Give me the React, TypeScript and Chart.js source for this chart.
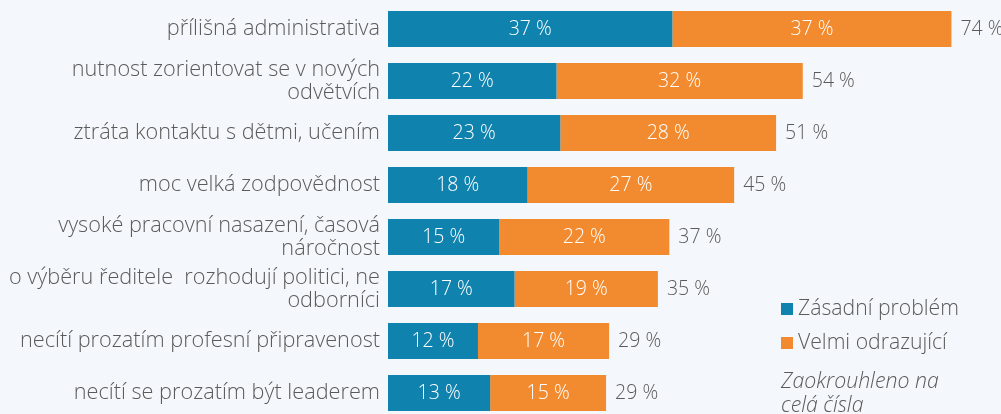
import React, { useEffect, useRef } from "react";
import { Chart, registerables } from "chart.js";

Chart.register(...registerables);

const categories: (string | string[])[] = [
  "přílišná administrativa",
  ["nutnost zorientovat se v nových", "odvětvích"],
  "ztráta kontaktu s dětmi, učením",
  "moc velká zodpovědnost",
  ["vysoké pracovní nasazení, časová", "náročnost"],
  ["o výběru ředitele  rozhodují politici, ne", "odborníci"],
  "necítí prozatím profesní připravenost",
  "necítí se prozatím být leaderem",
];

const seriesNames = ["Zásadní problém", "Velmi odrazující"];
const zasadniProblem = [37.3, 22.1, 22.6, 18.3, 14.6, 16.6, 11.8, 13.4];
const velmiOdrazujici = [36.6, 32.3, 28.3, 27.1, 22.3, 18.8, 17.2, 15.2];
const noteLines = ["Zaokrouhleno na", "celá čísla"];

const BLUE = "#1082ae";
const ORANGE = "#f28b30";
const TEXT = "#5a5a5a";
const BG = "#f4f7fb";
const FONT = "'Open Sans'";

const labelsPlugin = {
  id: "valueLabels",
  afterDatasetsDraw(chart: any) {
    const ctx = chart.ctx;
    ctx.save();
    ctx.textBaseline = "middle";
    ctx.font = `300 19.5px ${FONT}`;
    chart.data.datasets.forEach((ds: any, di: number) => {
      const meta = chart.getDatasetMeta(di);
      meta.data.forEach((bar: any, i: number) => {
        const v = ds.data[i] as number;
        ctx.fillStyle = "#ffffff";
        ctx.textAlign = "center";
        ctx.fillText(`${Math.round(v)} %`, (bar.x + bar.base) / 2, bar.y);
      });
    });
    const lastMeta = chart.getDatasetMeta(chart.data.datasets.length - 1);
    lastMeta.data.forEach((bar: any, i: number) => {
      const total = chart.data.datasets.reduce(
        (s: number, ds: any) => s + (ds.data[i] as number),
        0
      );
      ctx.fillStyle = TEXT;
      ctx.textAlign = "left";
      ctx.fillText(`${Math.round(total)} %`, bar.x + 9, bar.y);
    });
    ctx.restore();
  },
};

const legendPlugin = {
  id: "legendNote",
  afterDraw(chart: any) {
    const ctx = chart.ctx;
    ctx.save();
    const x0 = 781;
    const rows = [309, 343];
    ctx.textBaseline = "middle";
    ctx.textAlign = "left";
    ctx.font = `300 21.2px ${FONT}`;
    chart.data.datasets.forEach((ds: any, di: number) => {
      const y = rows[di];
      ctx.fillStyle = ds.backgroundColor;
      ctx.fillRect(x0, y - 6, 12, 12);
      ctx.fillStyle = TEXT;
      ctx.fillText(ds.label, x0 + 17, y);
    });
    ctx.font = `italic 300 21.3px ${FONT}`;
    ctx.textBaseline = "alphabetic";
    noteLines.forEach((line, i) => {
      ctx.fillText(line, x0, 388 + i * 24);
    });
    ctx.restore();
  },
};

export default function App() {
  const canvasRef = useRef<HTMLCanvasElement | null>(null);

  useEffect(() => {
    document.body.style.margin = "0";
    document.body.style.background = BG;
    document.body.style.overflow = "hidden";
    const canvas = canvasRef.current;
    if (!canvas) return;
    const chart = new Chart(canvas, {
      type: "bar",
      data: {
        labels: categories,
        datasets: [
          {
            label: seriesNames[0],
            data: zasadniProblem,
            backgroundColor: BLUE,
            categoryPercentage: 1,
            barPercentage: 0.69,
          },
          {
            label: seriesNames[1],
            data: velmiOdrazujici,
            backgroundColor: ORANGE,
            categoryPercentage: 1,
            barPercentage: 0.69,
          },
        ],
      },
      options: {
        indexAxis: "y",
        animation: false,
        responsive: true,
        maintainAspectRatio: false,
        layout: { padding: { top: 3, bottom: 0, left: 0, right: 0 } },
        plugins: {
          legend: { display: false },
          tooltip: { enabled: false },
        },
        scales: {
          x: {
            stacked: true,
            display: false,
            min: 0,
            max: 80.4,
          },
          y: {
            stacked: true,
            border: { display: false },
            grid: { display: false, drawTicks: false },
            ticks: {
              color: TEXT,
              padding: 8,
              font: { family: FONT, size: 21.7, weight: "300", lineHeight: 1.06 },
            },
            afterFit: (scale: any) => {
              scale.width = 388;
              scale.paddingTop = 0;
              scale.paddingBottom = 0;
            },
          },
        },
      },
      plugins: [labelsPlugin, legendPlugin],
    } as any);
    return () => chart.destroy();
  }, []);

  return (
    <div style={{ width: 1001, height: 414, overflow: "hidden", background: BG }}>
      <div style={{ position: "relative", width: 1001, height: 419 }}>
        <canvas ref={canvasRef} />
      </div>
    </div>
  );
}
